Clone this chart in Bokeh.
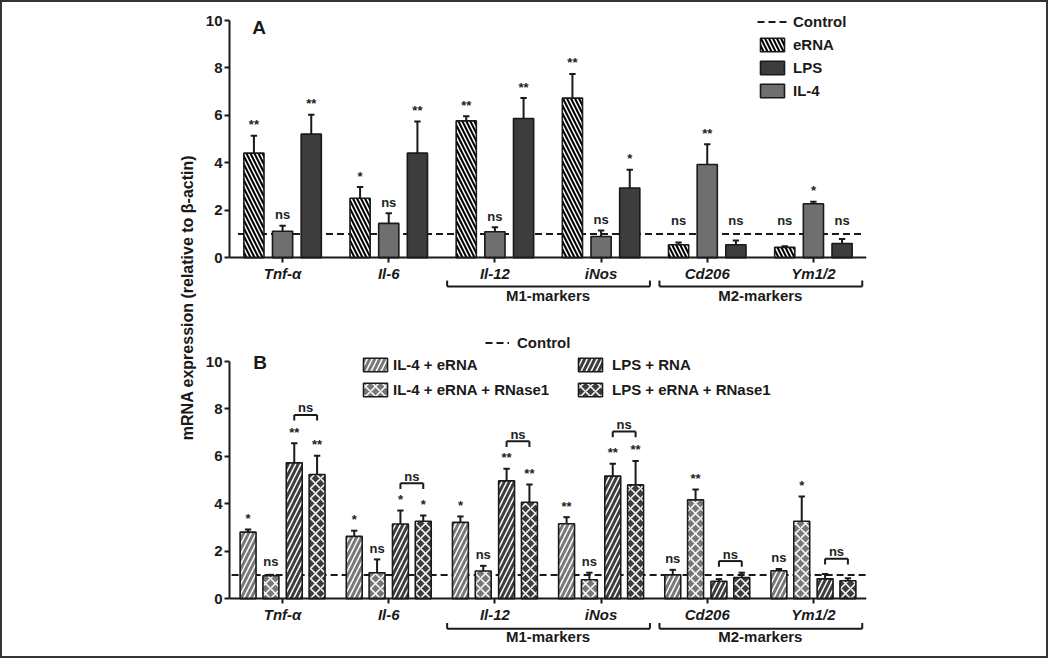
import math
from bokeh.plotting import figure
from bokeh.models import (ColumnDataSource, FactorRange, FixedTicker, Legend, LegendItem,
                          Label, Range1d)
from bokeh.transform import dodge
from bokeh.layouts import row, column
from bokeh.embed import file_html
from bokeh.resources import INLINE
from bokeh.core.properties import value

FONT = "Liberation Sans"
INK = "#1a1a1a"

# ---------------- data ----------------
genes = ["Tnf-α", "Il-6", "Il-12", "iNos", "Cd206", "Ym1/2"]
groups = ["", "", "M1-markers", "M1-markers", "M2-markers", "M2-markers"]
CONTROL = 1.0
y_ticks = [0, 2, 4, 6, 8, 10]
y_label = "mRNA expression (relative to β-actin)"

# Panel A
a_erna = [4.41, 2.51, 5.77, 6.73, 0.55, 0.44]
a_erna_sd = [0.73, 0.47, 0.20, 1.02, 0.10, 0.05]
a_erna_sig = ["**", "*", "**", "**", "ns", "ns"]
a_il4 = [1.12, 1.45, 1.10, 0.90, 3.93, 2.28]
a_il4_sd = [0.23, 0.43, 0.19, 0.25, 0.85, 0.08]
a_il4_sig = ["ns", "ns", "ns", "ns", "**", "*"]
a_lps = [5.21, 4.41, 5.87, 2.94, 0.55, 0.60]
a_lps_sd = [0.82, 1.33, 0.86, 0.77, 0.18, 0.19]
a_lps_sig = ["**", "**", "**", "*", "ns", "ns"]

# Panel B
b_il4_erna = [2.81, 2.63, 3.22, 3.16, 1.01, 1.18]
b_il4_erna_sd = [0.11, 0.24, 0.25, 0.28, 0.21, 0.08]
b_il4_erna_sig = ["*", "*", "*", "**", "ns", "ns"]
b_il4_rnase = [0.97, 1.10, 1.17, 0.80, 4.17, 3.27]
b_il4_rnase_sd = [0.04, 0.56, 0.22, 0.30, 0.44, 1.04]
b_il4_rnase_sig = ["ns", "ns", "ns", "ns", "**", "*"]
b_lps_rna = [5.73, 3.15, 4.97, 5.17, 0.74, 0.84]
b_lps_rna_sd = [0.83, 0.57, 0.51, 0.52, 0.09, 0.21]
b_lps_rna_sig = ["**", "*", "**", "**", "", ""]
b_lps_rnase = [5.24, 3.27, 4.07, 4.80, 0.90, 0.76]
b_lps_rnase_sd = [0.79, 0.24, 0.75, 1.01, 0.20, 0.11]
b_lps_rnase_sig = ["**", "*", "**", "**", "", ""]
# LPS+RNA vs LPS+eRNA+RNase1 comparison
b_cmp_label = ["ns", "ns", "ns", "ns", "ns", "ns"]
b_cmp_height = [7.75, 4.87, 6.64, 7.05, 1.59, 1.69]

factors = list(zip(groups, genes))

K = 23.73          # px per y unit
LABEL_FLOOR = 1.1  # significance labels are never placed lower than this


def style_fig(p):
    p.outline_line_color = None
    p.xgrid.grid_line_color = None
    p.ygrid.grid_line_color = None
    p.background_fill_color = "white"
    p.border_fill_color = "white"


def style_axes(p):
    ya = p.yaxis[0]
    ya.ticker = FixedTicker(ticks=y_ticks)
    ya.bounds = (0, 10)
    ya.minor_tick_line_color = None
    ya.major_tick_in = 0
    ya.major_tick_out = 5
    ya.major_tick_line_width = 2
    ya.major_tick_line_color = INK
    ya.axis_line_width = 2
    ya.axis_line_color = INK
    ya.major_label_standoff = 2
    ya.major_label_text_font = FONT
    ya.major_label_text_font_size = "15px"
    ya.major_label_text_font_style = "bold"
    ya.major_label_text_color = INK

    xa = p.xaxis[0]
    xa.fixed_location = 0
    xa.major_tick_in = 0
    xa.major_tick_out = 5
    xa.major_tick_line_width = 2
    xa.major_tick_line_color = INK
    xa.axis_line_width = 2
    xa.axis_line_color = INK
    xa.major_label_standoff = 2
    xa.major_label_text_font = FONT
    xa.major_label_text_font_size = "15px"
    xa.major_label_text_font_style = "bold italic"
    xa.major_label_text_color = INK
    xa.group_text_font = FONT
    xa.group_text_font_size = "15px"
    xa.group_text_font_style = "bold"
    xa.group_text_color = INK
    xa.separator_line_color = None


def group_brackets(p, yb, yt):
    xs0, ys0, xs1, ys1 = [], [], [], []
    seen = []
    for g in groups:
        if g and g not in seen:
            seen.append(g)
    for g in seen:
        idx = [i for i, gg in enumerate(groups) if gg == g]
        x0 = idx[0] + 0.05
        x1 = idx[-1] + 1 - 0.04
        xs0 += [x0, x0, x1]
        xs1 += [x1, x0, x1]
        ys0 += [yb, yb, yb]
        ys1 += [yb, yt, yt]
    src = ColumnDataSource(dict(x0=xs0, y0=ys0, x1=xs1, y1=ys1))
    p.segment(x0="x0", y0="y0", x1="x1", y1="y1", source=src,
              line_width=2, line_color=INK)


def bars(p, xr, vals, sds, sigs, off, width, fill, hatch, hatch_color, hatch_scale, hatch_weight):
    tops = [v + s for v, s in zip(vals, sds)]
    src = ColumnDataSource(dict(
        gene=factors, val=vals, top=tops,
        lab_y=[max(t, LABEL_FLOOR) for t in tops], sig=sigs))
    xc = dodge("gene", off, range=xr)
    cap = 0.03
    p.segment(x0=xc, y0="val", x1=xc, y1="top", source=src, line_color=INK, line_width=2)
    p.segment(x0=dodge("gene", off - cap, range=xr), y0="top",
              x1=dodge("gene", off + cap, range=xr), y1="top",
              source=src, line_color=INK, line_width=2)
    r = p.vbar(x=xc, top="val", bottom=0, width=width, source=src,
               fill_color=fill, line_color=INK, line_width=1.6,
               hatch_pattern=hatch, hatch_color=hatch_color,
               hatch_scale=hatch_scale, hatch_weight=hatch_weight)
    p.text(x=xc, y="lab_y", text="sig", source=src, text_align="center",
           text_baseline="alphabetic", y_offset=-11,
           text_font=value(FONT), text_font_size="13px", text_font_style="bold",
           text_color="#222222")
    return r


def legend(p, items, x, y, glyph_w, standoff, spacing):
    lg = Legend(items=items, location=(x, y), orientation="vertical",
                glyph_width=glyph_w, glyph_height=17, label_height=17,
                label_standoff=standoff, spacing=spacing, padding=0, margin=0,
                border_line_color=None, background_fill_alpha=0,
                label_text_font=FONT, label_text_font_size="15px",
                label_text_font_style="bold", label_text_color=INK)
    p.add_layout(lg)


LIGHT = "#6f6f6f"
DARK = "#3d3d3d"
BGRAY = "#787878"

# page geometry: panel A frame spans page y 2..318 (zero at 257.3),
# panel B frame spans page y 318..656 (zero at 598.3)
A_TOP = (257.3 - 2) / K
A_BOT = (257.3 - 318) / K
B_TOP = (598.3 - 318) / K
B_BOT = (598.3 - 656) / K

# ---------------- Panel A ----------------
xr_a = FactorRange(factors=factors, factor_padding=0, group_padding=0,
                   subgroup_padding=0, range_padding=0)
pa = figure(width=846, height=316, x_range=xr_a, y_range=Range1d(A_BOT, A_TOP),
            output_backend="svg", toolbar_location=None,
            min_border_left=29, min_border_right=180, min_border_top=0, min_border_bottom=0)
style_fig(pa)
style_axes(pa)

ctrl_a = pa.line(x=[0.08, 5.98], y=[CONTROL, CONTROL], line_color=INK, line_width=2,
                 line_dash="7 4")
r_erna = bars(pa, xr_a, a_erna, a_erna_sd, a_erna_sig, -0.27, 0.19, "white", "\\", "black", 8, 2.1)
r_il4 = bars(pa, xr_a, a_il4, a_il4_sd, a_il4_sig, 0.0, 0.19, LIGHT, None, None, 8, 1)
r_lps = bars(pa, xr_a, a_lps, a_lps_sd, a_lps_sig, 0.27, 0.19, DARK, None, None, 8, 1)
group_brackets(pa, -1.21, -0.96)
pa.add_layout(Label(x=0.214, y=9.28, text="A", text_font=FONT, text_font_size="19px",
                    text_font_style="bold", text_color=INK))
legend(pa, [LegendItem(label="Control", renderers=[ctrl_a]),
            LegendItem(label="eRNA", renderers=[r_erna]),
            LegendItem(label="LPS", renderers=[r_lps]),
            LegendItem(label="IL-4", renderers=[r_il4])],
       528, 158.3 + 60.7, 30, 6, 6)

# ---------------- Panel B ----------------
xr_b = FactorRange(factors=factors, factor_padding=0, group_padding=0,
                   subgroup_padding=0, range_padding=0)
pb = figure(width=846, height=338, x_range=xr_b, y_range=Range1d(B_BOT, B_TOP),
            output_backend="svg", toolbar_location=None,
            min_border_left=29, min_border_right=180, min_border_top=0, min_border_bottom=0)
style_fig(pb)
style_axes(pb)

ctrl_b = pb.line(x=[0.02, 6.0], y=[CONTROL, CONTROL], line_color=INK, line_width=2,
                 line_dash="7 4")
W = 0.15
r1 = bars(pb, xr_b, b_il4_erna, b_il4_erna_sd, b_il4_erna_sig, -0.325, W, BGRAY, "/", "white", 10, 1.5)
r2 = bars(pb, xr_b, b_il4_rnase, b_il4_rnase_sd, b_il4_rnase_sig, -0.11, W, BGRAY, "x", "white", 10, 1.5)
r3 = bars(pb, xr_b, b_lps_rna, b_lps_rna_sd, b_lps_rna_sig, 0.11, W, DARK, "/", "white", 10, 1.5)
r4 = bars(pb, xr_b, b_lps_rnase, b_lps_rnase_sd, b_lps_rnase_sig, 0.325, W, DARK, "x", "white", 10, 1.5)

cmp_src = ColumnDataSource(dict(gene=factors, h=b_cmp_height,
                                leg=[h - 0.24 for h in b_cmp_height], lab=b_cmp_label))
pb.segment(x0=dodge("gene", 0.11, range=xr_b), x1=dodge("gene", 0.325, range=xr_b),
           y0="h", y1="h", source=cmp_src, line_color=INK, line_width=2)
pb.segment(x0=dodge("gene", 0.11, range=xr_b), x1=dodge("gene", 0.11, range=xr_b),
           y0="h", y1="leg", source=cmp_src, line_color=INK, line_width=2)
pb.segment(x0=dodge("gene", 0.325, range=xr_b), x1=dodge("gene", 0.325, range=xr_b),
           y0="h", y1="leg", source=cmp_src, line_color=INK, line_width=2)
pb.text(x=dodge("gene", 0.2175, range=xr_b), y="h", text="lab", source=cmp_src,
        text_align="center", text_baseline="alphabetic", y_offset=-7,
        text_font=value(FONT), text_font_size="13px", text_font_style="bold",
        text_color="#222222")
group_brackets(pb, -1.26, -1.02)
pb.add_layout(Label(x=0.223, y=9.5, text="B", text_font=FONT, text_font_size="19px",
                    text_font_style="bold", text_color=INK))
legend(pb, [LegendItem(label="Control", renderers=[ctrl_b])], 256, 247.3 + 57.7, 24, 8, 0)
legend(pb, [LegendItem(label="IL-4 + eRNA", renderers=[r1]),
            LegendItem(label="IL-4 + eRNA + RNase1", renderers=[r2])],
       131, 200.3 + 57.7, 30, 3, 8)
legend(pb, [LegendItem(label="LPS + RNA", renderers=[r3]),
            LegendItem(label="LPS + eRNA + RNase1", renderers=[r4])],
       346, 200.3 + 57.7, 30, 7, 8)

# ---------------- shared y label ----------------
pl = figure(width=198, height=654, x_range=Range1d(0, 198), y_range=Range1d(0, 654),
            output_backend="svg", toolbar_location=None, min_border=0)
pl.axis.visible = False
style_fig(pl)
pl.add_layout(Label(x=185, y=654 - 295, text=y_label, angle=math.pi / 2, text_align="center",
                    text_baseline="middle", text_font=FONT, text_font_size="16px",
                    text_font_style="bold", text_color=INK))

layout = row(pl, column(pa, pb), styles={"border": "2px solid #333333"})

open("out.html", "w").write(file_html(layout, INLINE))
